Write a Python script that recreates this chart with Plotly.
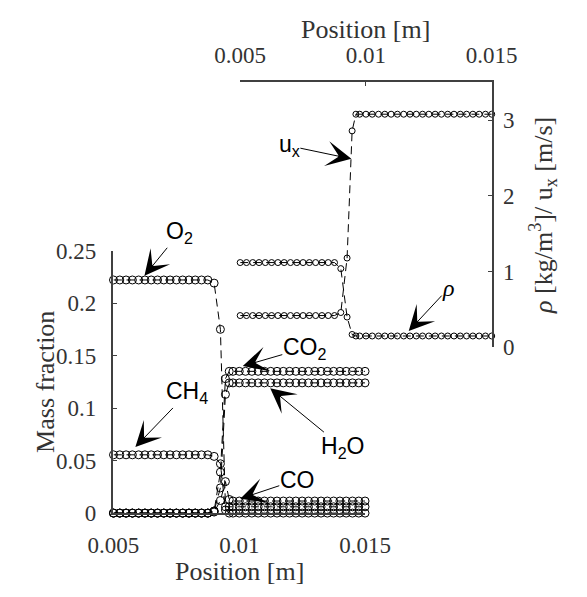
import plotly.graph_objects as go

W, H = 587, 597

# ---------------- data ----------------
position = [0.005, 0.00525, 0.0055, 0.00575, 0.006, 0.00625, 0.0065, 0.00675,
            0.007, 0.00725, 0.0075, 0.00775, 0.008, 0.00825, 0.0085, 0.00875,
            0.0090, 0.00925, 0.00945, 0.0096,
            0.00975, 0.01, 0.01025, 0.0105, 0.01075, 0.011, 0.01125, 0.0115,
            0.01175, 0.012, 0.01225, 0.0125, 0.01275, 0.013, 0.01325, 0.0135,
            0.01375, 0.014, 0.01425, 0.0145, 0.01475, 0.015]

y_O2 = [0.222, 0.222, 0.222, 0.222, 0.222, 0.222, 0.222, 0.222,
        0.222, 0.222, 0.222, 0.222, 0.222, 0.222, 0.222, 0.222,
        0.219, 0.175, 0.006, 0.006,
        0.006, 0.006, 0.006, 0.006, 0.006, 0.006, 0.006, 0.006,
        0.006, 0.006, 0.006, 0.006, 0.006, 0.006, 0.006, 0.006,
        0.006, 0.006, 0.006, 0.006, 0.006, 0.006]

y_CH4 = [0.0555, 0.0555, 0.0555, 0.0555, 0.0555, 0.0555, 0.0555, 0.0555,
         0.0555, 0.0555, 0.0555, 0.0555, 0.0555, 0.0555, 0.0555, 0.0555,
         0.054, 0.047, 0.003, 0.0,
         0.0, 0.0, 0.0, 0.0, 0.0, 0.0, 0.0, 0.0,
         0.0, 0.0, 0.0, 0.0, 0.0, 0.0, 0.0, 0.0,
         0.0, 0.0, 0.0, 0.0, 0.0, 0.0]

y_CO2 = [0.0, 0.0, 0.0, 0.0, 0.0, 0.0, 0.0, 0.0,
         0.0, 0.0, 0.0, 0.0, 0.0, 0.0, 0.0, 0.0,
         0.002, 0.039, 0.128, 0.135,
         0.135, 0.135, 0.135, 0.135, 0.135, 0.135, 0.135, 0.135,
         0.135, 0.135, 0.135, 0.135, 0.135, 0.135, 0.135, 0.135,
         0.135, 0.135, 0.135, 0.135, 0.135, 0.135]

y_H2O = [0.0, 0.0, 0.0, 0.0, 0.0, 0.0, 0.0, 0.0,
         0.0, 0.0, 0.0, 0.0, 0.0, 0.0, 0.0, 0.0,
         0.002, 0.024, 0.113, 0.124,
         0.124, 0.124, 0.124, 0.124, 0.124, 0.124, 0.124, 0.124,
         0.124, 0.124, 0.124, 0.124, 0.124, 0.124, 0.124, 0.124,
         0.124, 0.124, 0.124, 0.124, 0.124, 0.124]

y_CO = [0.0, 0.0, 0.0, 0.0, 0.0, 0.0, 0.0, 0.0,
        0.0, 0.0, 0.0, 0.0, 0.0, 0.0, 0.0, 0.0,
        0.001, 0.012, 0.030, 0.013,
        0.0115, 0.0115, 0.0115, 0.0115, 0.0115, 0.0115, 0.0115, 0.0115,
        0.0115, 0.0115, 0.0115, 0.0115, 0.0115, 0.0115, 0.0115, 0.0115,
        0.0115, 0.0115, 0.0115, 0.0115, 0.0115, 0.0115]

y_rho = [1.12, 1.12, 1.12, 1.12, 1.12, 1.12, 1.12, 1.12,
         1.12, 1.12, 1.12, 1.12, 1.12, 1.12, 1.12, 1.12,
         1.04, 0.40, 0.17, 0.15,
         0.15, 0.15, 0.15, 0.15, 0.15, 0.15, 0.15, 0.15,
         0.15, 0.15, 0.15, 0.15, 0.15, 0.15, 0.15, 0.15,
         0.15, 0.15, 0.15, 0.15, 0.15, 0.15]

y_ux = [0.42, 0.42, 0.42, 0.42, 0.42, 0.42, 0.42, 0.42,
        0.42, 0.42, 0.42, 0.42, 0.42, 0.42, 0.42, 0.42,
        0.46, 1.18, 2.86, 3.08,
        3.08, 3.08, 3.08, 3.08, 3.08, 3.08, 3.08, 3.08,
        3.08, 3.08, 3.08, 3.08, 3.08, 3.08, 3.08, 3.08,
        3.08, 3.08, 3.08, 3.08, 3.08, 3.08]

x_ticks = [0.005, 0.01, 0.015]
mass_ticks = [0, 0.05, 0.1, 0.15, 0.2, 0.25]
upper_ticks = [0, 1, 2, 3]

# ---------------- styling ----------------
AX = "#404040"
SERIF = "Liberation Serif, Times New Roman, serif"
TICKFONT = dict(family=SERIF, size=23, color="#333333")
TITLEFONT = dict(family=SERIF, size=26, color="#333333")
LABELFONT = dict(family="Liberation Sans, Arial, sans-serif", size=23,
                 color="black")
DASH = "8px,5px"


def px(xp, yp):
    return xp / W, 1 - yp / H


fig = go.Figure()

for ys in [y_O2, y_CH4, y_CO2, y_H2O, y_CO]:
    fig.add_trace(go.Scatter(
        x=position, y=ys, xaxis="x", yaxis="y", mode="lines+markers",
        line=dict(color="black", width=1, dash=DASH),
        marker=dict(symbol="circle-open", size=8, color="black",
                    line=dict(width=1, color="black")),
        cliponaxis=False, showlegend=False, hoverinfo="skip"))

for ys in [y_rho, y_ux]:
    fig.add_trace(go.Scatter(
        x=position, y=ys, xaxis="x2", yaxis="y2", mode="lines+markers",
        line=dict(color="black", width=1, dash=DASH),
        marker=dict(symbol="circle-open", size=6, color="black",
                    line=dict(width=1, color="black")),
        cliponaxis=False, showlegend=False, hoverinfo="skip"))

common = dict(showgrid=False, zeroline=False, showline=True, linecolor=AX,
              linewidth=1.5, ticks="inside", ticklen=4, tickcolor=AX,
              tickwidth=1, tickfont=TICKFONT)

fig.update_layout(
    width=W, height=H,
    margin=dict(l=0, r=0, t=0, b=0),
    paper_bgcolor="white", plot_bgcolor="rgba(0,0,0,0)",
    xaxis=dict(domain=[96 / W, 372 / W], range=[0.005, 0.015],
               tickvals=x_ticks, anchor="y", side="bottom",
               ticklabelstandoff=11, **common),
    yaxis=dict(domain=[1 - 523 / H, 1 - 249 / H], range=[0, 0.25],
               tickvals=mass_ticks, anchor="x", side="left",
               ticklabelstandoff=11, **common),
    xaxis2=dict(domain=[235 / W, 511 / W], range=[0.005, 0.015],
                tickvals=x_ticks, anchor="y2", side="top",
                ticklabelstandoff=8, **common),
    yaxis2=dict(domain=[1 - 350 / H, 1 - 73.5 / H], range=[0, 3.5],
                tickvals=upper_ticks, anchor="x2", side="right",
                ticklabelstandoff=5, **common),
)

ann = []
# axis titles
for (xp, yp, txt, ang) in [
    (22, 386, "Mass fraction", -90),
    (234, 584, "Position [m]", 0),
    (373, 18, "Position [m]", 0),
    (567, 212, "<i>ρ</i> [kg/m<sup>3</sup>]/ u<sub>x</sub> [m/s]", -90),
]:
    xx, yy = px(xp, yp)
    ann.append(dict(x=xx, y=yy, xref="paper", yref="paper", text=txt,
                    showarrow=False, textangle=ang, font=TITLEFONT,
                    xanchor="center", yanchor="middle"))

# labelled arrows: tip in data coordinates, label centre given in pixels
# (xref, yref, tip_x, tip_y, tip_px_x, tip_px_y, label_px_x, label_px_y, text, font)
SERIF_LBL = dict(family=SERIF, size=24, color="black")
arrows = [
    ("x", "y", 0.00623, 0.226, 130, 275, 165, 232, "O<sub>2</sub>", LABELFONT),
    ("x", "y", 0.00587, 0.063, 120, 454, 172, 400, "CH<sub>4</sub>", LABELFONT),
    ("x", "y", 0.01014, 0.140, 238, 370, 300, 352, "CO<sub>2</sub>", LABELFONT),
    ("x", "y", 0.01123, 0.119, 268, 393, 340, 452, "H<sub>2</sub>O", LABELFONT),
    ("x", "y", 0.01004, 0.0137, 235, 508, 292, 489, "CO", LABELFONT),
    ("x2", "y2", 0.00942, 2.49, 357, 153, 295, 140, "u<sub>x</sub>", LABELFONT),
    ("x2", "y2", 0.0117, 0.215, 420, 333, 460, 290, "<i>ρ</i>", SERIF_LBL),
]
for xr, yr, xv, yv, tx, ty, lx, ly, txt, fnt in arrows:
    ann.append(dict(x=xv, y=yv, xref=xr, yref=yr, text=txt, font=fnt,
                    showarrow=True, ax=lx - tx, ay=ly - ty,
                    arrowhead=3, arrowsize=4.2, arrowwidth=1,
                    arrowcolor="black", standoff=0, borderpad=0))

fig.update_layout(annotations=ann)
fig.write_html(
    "out.html",
    config={"displayModeBar": False},
    post_script="document.body.style.margin='0';"
                "document.body.style.overflow='hidden';")
